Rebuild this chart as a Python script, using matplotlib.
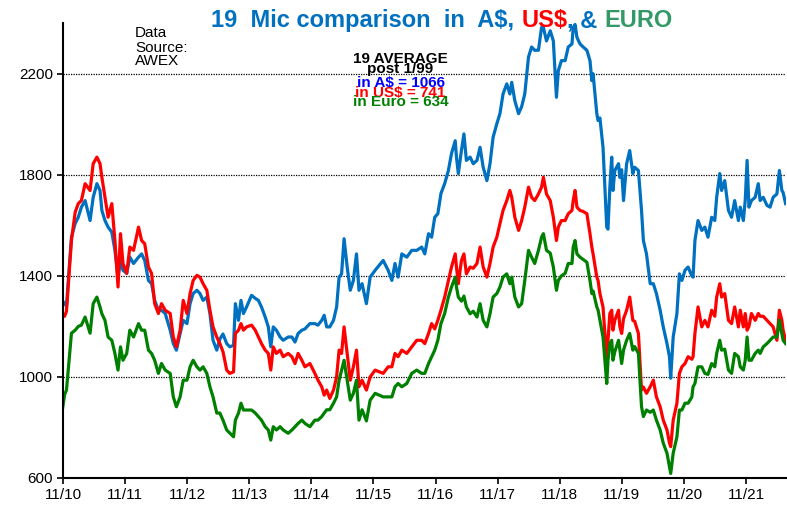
import matplotlib.pyplot as plt

plt.rcParams['font.family'] = ['Liberation Sans', 'DejaVu Sans']

# weekly-ish readings, x in decimal years
years = [2010.83, 2010.86, 2010.89, 2010.93, 2010.97, 2011.03, 2011.08, 2011.13, 2011.19, 2011.27,
         2011.32, 2011.38, 2011.43, 2011.46, 2011.51, 2011.56, 2011.62, 2011.67, 2011.72, 2011.76,
         2011.80, 2011.86, 2011.91, 2011.97, 2012.05, 2012.10, 2012.15, 2012.21, 2012.26, 2012.31,
         2012.37, 2012.42, 2012.48, 2012.56, 2012.61, 2012.66, 2012.72, 2012.77, 2012.83, 2012.88,
         2012.93, 2012.99, 2013.04, 2013.09, 2013.15, 2013.20, 2013.25, 2013.31, 2013.36, 2013.41,
         2013.47, 2013.52, 2013.58, 2013.61, 2013.66, 2013.70, 2013.74, 2013.79, 2013.87, 2013.93,
         2013.98, 2014.03, 2014.09, 2014.14, 2014.18, 2014.22, 2014.27, 2014.33, 2014.38, 2014.46,
         2014.52, 2014.57, 2014.62, 2014.68, 2014.73, 2014.81, 2014.89, 2014.94, 2015.00, 2015.04,
         2015.08, 2015.13, 2015.19, 2015.24, 2015.28, 2015.32, 2015.36, 2015.41, 2015.46, 2015.51,
         2015.56, 2015.60, 2015.65, 2015.72, 2015.78, 2015.86, 2015.99, 2016.07, 2016.13, 2016.18,
         2016.23, 2016.29, 2016.37, 2016.45, 2016.53, 2016.61, 2016.66, 2016.72, 2016.77, 2016.82,
         2016.87, 2016.92, 2016.98, 2017.04, 2017.09, 2017.15, 2017.17, 2017.20, 2017.25, 2017.29,
         2017.33, 2017.39, 2017.44, 2017.50, 2017.55, 2017.60, 2017.66, 2017.71, 2017.76, 2017.82,
         2017.87, 2017.92, 2017.98, 2018.03, 2018.06, 2018.11, 2018.17, 2018.22, 2018.27, 2018.33,
         2018.38, 2018.43, 2018.49, 2018.54, 2018.57, 2018.62, 2018.68, 2018.73, 2018.78, 2018.81,
         2018.86, 2018.92, 2018.97, 2019.03, 2019.05, 2019.08, 2019.11, 2019.16, 2019.21, 2019.27,
         2019.32, 2019.35, 2019.37, 2019.43, 2019.45, 2019.48, 2019.53, 2019.59, 2019.61, 2019.64,
         2019.67, 2019.69, 2019.72, 2019.78, 2019.80, 2019.83, 2019.86, 2019.91, 2019.96, 2020.01,
         2020.04, 2020.10, 2020.15, 2020.18, 2020.23, 2020.29, 2020.34, 2020.39, 2020.45, 2020.50,
         2020.56, 2020.60, 2020.62, 2020.66, 2020.72, 2020.76, 2020.80, 2020.85, 2020.90, 2020.96,
         2020.98, 2021.01, 2021.06, 2021.12, 2021.17, 2021.22, 2021.28, 2021.33, 2021.36, 2021.41,
         2021.44, 2021.49, 2021.55, 2021.60, 2021.65, 2021.71, 2021.74, 2021.79, 2021.82, 2021.85,
         2021.88, 2021.92, 2021.98, 2022.03, 2022.06, 2022.11, 2022.17, 2022.22, 2022.27, 2022.33,
         2022.37, 2022.41, 2022.43, 2022.47]

aud = [1300, 1290, 1280, 1420, 1553, 1607, 1632, 1672, 1698, 1619,
       1711, 1765, 1738, 1659, 1619, 1593, 1573, 1501, 1395, 1461,
       1422, 1410, 1474, 1449, 1474, 1487, 1461, 1382, 1369, 1303,
       1264, 1264, 1251, 1185, 1132, 1106, 1172, 1224, 1211, 1290,
       1330, 1343, 1330, 1303, 1316, 1251, 1145, 1106, 1150, 1170,
       1132, 1119, 1125, 1290, 1224, 1303, 1251, 1277, 1323, 1311,
       1303, 1277, 1237, 1198, 1119, 1198, 1185, 1158, 1145, 1158,
       1158, 1138, 1172, 1185, 1190, 1211, 1211, 1205, 1224, 1244,
       1198, 1198, 1224, 1277, 1395, 1408, 1547, 1435, 1343, 1382,
       1487, 1343, 1369, 1290, 1395, 1422, 1461, 1422, 1382, 1449,
       1395, 1487, 1474, 1501, 1501, 1514, 1487, 1567, 1553, 1632,
       1646, 1726, 1765, 1817, 1884, 1935, 1870, 1805, 1896, 1962,
       1857, 1870, 1844, 1857, 1909, 1830, 1777, 1844, 1949, 2002,
       2042, 2120, 2160, 2120, 2166, 2093, 2042, 2070, 2120, 2266,
       2306, 2293, 2293, 2383, 2383, 2330, 2370, 2330, 2107, 2212,
       2252, 2252, 2306, 2318, 2383, 2395, 2344, 2318, 2306, 2293,
       2252, 2173, 2200, 2042, 2015, 2025, 1909, 1593, 1585, 1751,
       1870, 1738, 1817, 1844, 1790, 1820, 1698, 1844, 1896, 1805,
       1830, 1817, 1659, 1540, 1487, 1369, 1369, 1330, 1264, 1198,
       1132, 1080, 995, 1158, 1251, 1408, 1382, 1422, 1435, 1400,
       1395, 1540, 1619, 1580, 1593, 1553, 1632, 1619, 1711, 1805,
       1738, 1777, 1659, 1632, 1698, 1619, 1672, 1619, 1698, 1857,
       1672, 1698, 1711, 1765, 1698, 1711, 1679, 1672, 1711, 1724,
       1817, 1738, 1730, 1686]

usd = [1250, 1240, 1260, 1400, 1540, 1652, 1686, 1698, 1765, 1738,
       1844, 1870, 1844, 1790, 1711, 1632, 1686, 1540, 1356, 1567,
       1449, 1410, 1514, 1501, 1593, 1540, 1527, 1435, 1410, 1290,
       1251, 1290, 1264, 1251, 1158, 1119, 1185, 1303, 1251, 1330,
       1382, 1402, 1395, 1369, 1343, 1264, 1198, 1158, 1132, 1100,
       1027, 1014, 1020, 1172, 1185, 1211, 1185, 1198, 1205, 1185,
       1158, 1132, 1106, 1093, 1027, 1119, 1093, 1106, 1080, 1093,
       1080, 1053, 1093, 1066, 1040, 1053, 1014, 987, 961, 928,
       948, 915, 948, 1000, 1106, 1093, 1198, 1093, 987, 1040,
       1106, 961, 987, 948, 1000, 1027, 1014, 1040, 1040, 1093,
       1080, 1106, 1093, 1119, 1145, 1145, 1132, 1172, 1211, 1190,
       1224, 1264, 1316, 1382, 1435, 1487, 1435, 1369, 1461, 1487,
       1408, 1435, 1430, 1449, 1514, 1435, 1395, 1449, 1514, 1553,
       1607, 1659, 1698, 1738, 1711, 1632, 1580, 1619, 1672, 1751,
       1711, 1698, 1724, 1751, 1790, 1724, 1698, 1632, 1540, 1593,
       1619, 1619, 1646, 1659, 1698, 1738, 1672, 1659, 1655, 1646,
       1567, 1514, 1487, 1395, 1382, 1330, 1277, 1066, 1145, 1251,
       1264, 1185, 1224, 1264, 1200, 1172, 1230, 1264, 1316, 1224,
       1220, 1172, 948, 960, 935, 961, 987, 921, 882, 829,
       790, 738, 724, 829, 896, 1014, 1040, 1053, 1080, 1070,
       1080, 1172, 1277, 1198, 1224, 1198, 1264, 1240, 1316, 1369,
       1316, 1330, 1224, 1211, 1277, 1198, 1264, 1198, 1251, 1185,
       1200, 1251, 1224, 1251, 1240, 1240, 1224, 1211, 1198, 1145,
       1264, 1224, 1185, 1145]

eur = [880, 930, 948, 1060, 1173, 1185, 1200, 1205, 1237, 1173,
       1290, 1316, 1277, 1250, 1224, 1158, 1145, 1093, 1027, 1119,
       1066, 1093, 1185, 1158, 1211, 1185, 1185, 1106, 1093, 1066,
       1014, 1053, 1027, 1014, 921, 882, 921, 987, 987, 1040,
       1066, 1040, 1027, 1040, 1014, 961, 921, 857, 857, 829,
       790, 778, 763, 829, 857, 896, 869, 869, 869, 857,
       843, 829, 803, 790, 750, 803, 790, 803, 790, 777,
       790, 803, 816, 829, 816, 803, 829, 829, 843, 857,
       870, 870, 896, 921, 987, 1027, 1066, 987, 908, 935,
       987, 829, 870, 826, 908, 935, 921, 921, 921, 961,
       974, 961, 974, 1014, 1027, 1014, 1014, 1053, 1080, 1106,
       1145, 1211, 1251, 1316, 1356, 1395, 1356, 1316, 1300, 1320,
       1277, 1250, 1260, 1237, 1290, 1224, 1198, 1250, 1316, 1330,
       1356, 1395, 1408, 1369, 1395, 1316, 1277, 1290, 1382, 1501,
       1474, 1449, 1501, 1553, 1567, 1501, 1490, 1435, 1343, 1382,
       1400, 1410, 1449, 1449, 1514, 1540, 1487, 1474, 1465, 1454,
       1382, 1330, 1340, 1277, 1265, 1224, 1158, 974, 1066, 1132,
       1145, 1066, 1100, 1145, 1110, 1053, 1106, 1145, 1172, 1106,
       1120, 1093, 882, 843, 869, 860, 869, 829, 790, 738,
       698, 645, 618, 698, 763, 869, 869, 896, 896, 920,
       961, 974, 1040, 1040, 1014, 1010, 1053, 1040, 1093, 1145,
       1106, 1110, 1027, 1014, 1093, 1080, 1040, 1027, 1066, 1158,
       1066, 1066, 1093, 1106, 1093, 1119, 1132, 1145, 1158, 1158,
       1224, 1170, 1145, 1132]

tick_years = [2010, 2011, 2012, 2013, 2014, 2015, 2016, 2017, 2018, 2019, 2020, 2021]
tick_labels = ['11/10', '11/11', '11/12', '11/13', '11/14', '11/15',
               '11/16', '11/17', '11/18', '11/19', '11/20', '11/21']
y_ticks = [600, 1000, 1400, 1800, 2200]

fig = plt.figure(figsize=(7.87, 5.05), dpi=100)
ax = fig.add_axes([0.080, 0.0535, 0.919, 0.9005])

ax.plot(years, aud, color='#0070C0', lw=2.3)
ax.plot(years, usd, color='#FF0000', lw=2.3)
ax.plot(years, eur, color='#008000', lw=2.3)

ax.set_xlim(2010 + 10 / 12, 2022.48)
ax.set_ylim(600, 2400)
ax.set_xticks([y + 10 / 12 for y in tick_years])
ax.set_xticklabels(tick_labels)
ax.set_yticks(y_ticks)
ax.grid(axis='y', color='black', lw=0.9, ls=(0, (1, 1)))
ax.set_axisbelow(True)

for s in ['top', 'right']:
    ax.spines[s].set_visible(False)
for s in ['left', 'bottom']:
    ax.spines[s].set_linewidth(1.5)
ax.tick_params(direction='out', length=4, width=1.2, labelsize=11, pad=3)

# multi-coloured title, pieces placed one after the other
fig.canvas.draw()
rend = fig.canvas.get_renderer()
title_parts = [('19  Mic comparison  in  A$,', '#0070C0', 0),
               ('US$', '#FF0000', 7),
               (', &', '#0070C0', 0),
               ('EURO', '#339966', 7)]
x = 211 / 787
for txt, col, gap in title_parts:
    x += gap / 787
    t = fig.text(x, 0.9465, txt, color=col, fontsize=17, fontweight='bold', va='baseline')
    bb = t.get_window_extent(renderer=rend)
    x = bb.x1 / 787

# data source note
for txt, yb in [('Data', 37.3), ('Source:', 51.7), ('AWEX', 65)]:
    fig.text(135 / 787, 1 - yb / 505, txt, fontsize=11, va='baseline')

# averages box
avg_lines = [('19 AVERAGE', 'black', 62.7),
             ('post 1/99', 'black', 73.3),
             ('in A$ = 1066', '#0000FF', 87.3),
             ('in US$ = 741', '#FF0000', 96.7),
             ('in Euro = 634', '#008000', 106)]
for txt, col, yb in avg_lines:
    fig.text(400.5 / 787, 1 - yb / 505, txt, color=col, fontsize=11,
             fontweight='bold', ha='center', va='baseline')

fig.savefig('out.png', dpi=100)
